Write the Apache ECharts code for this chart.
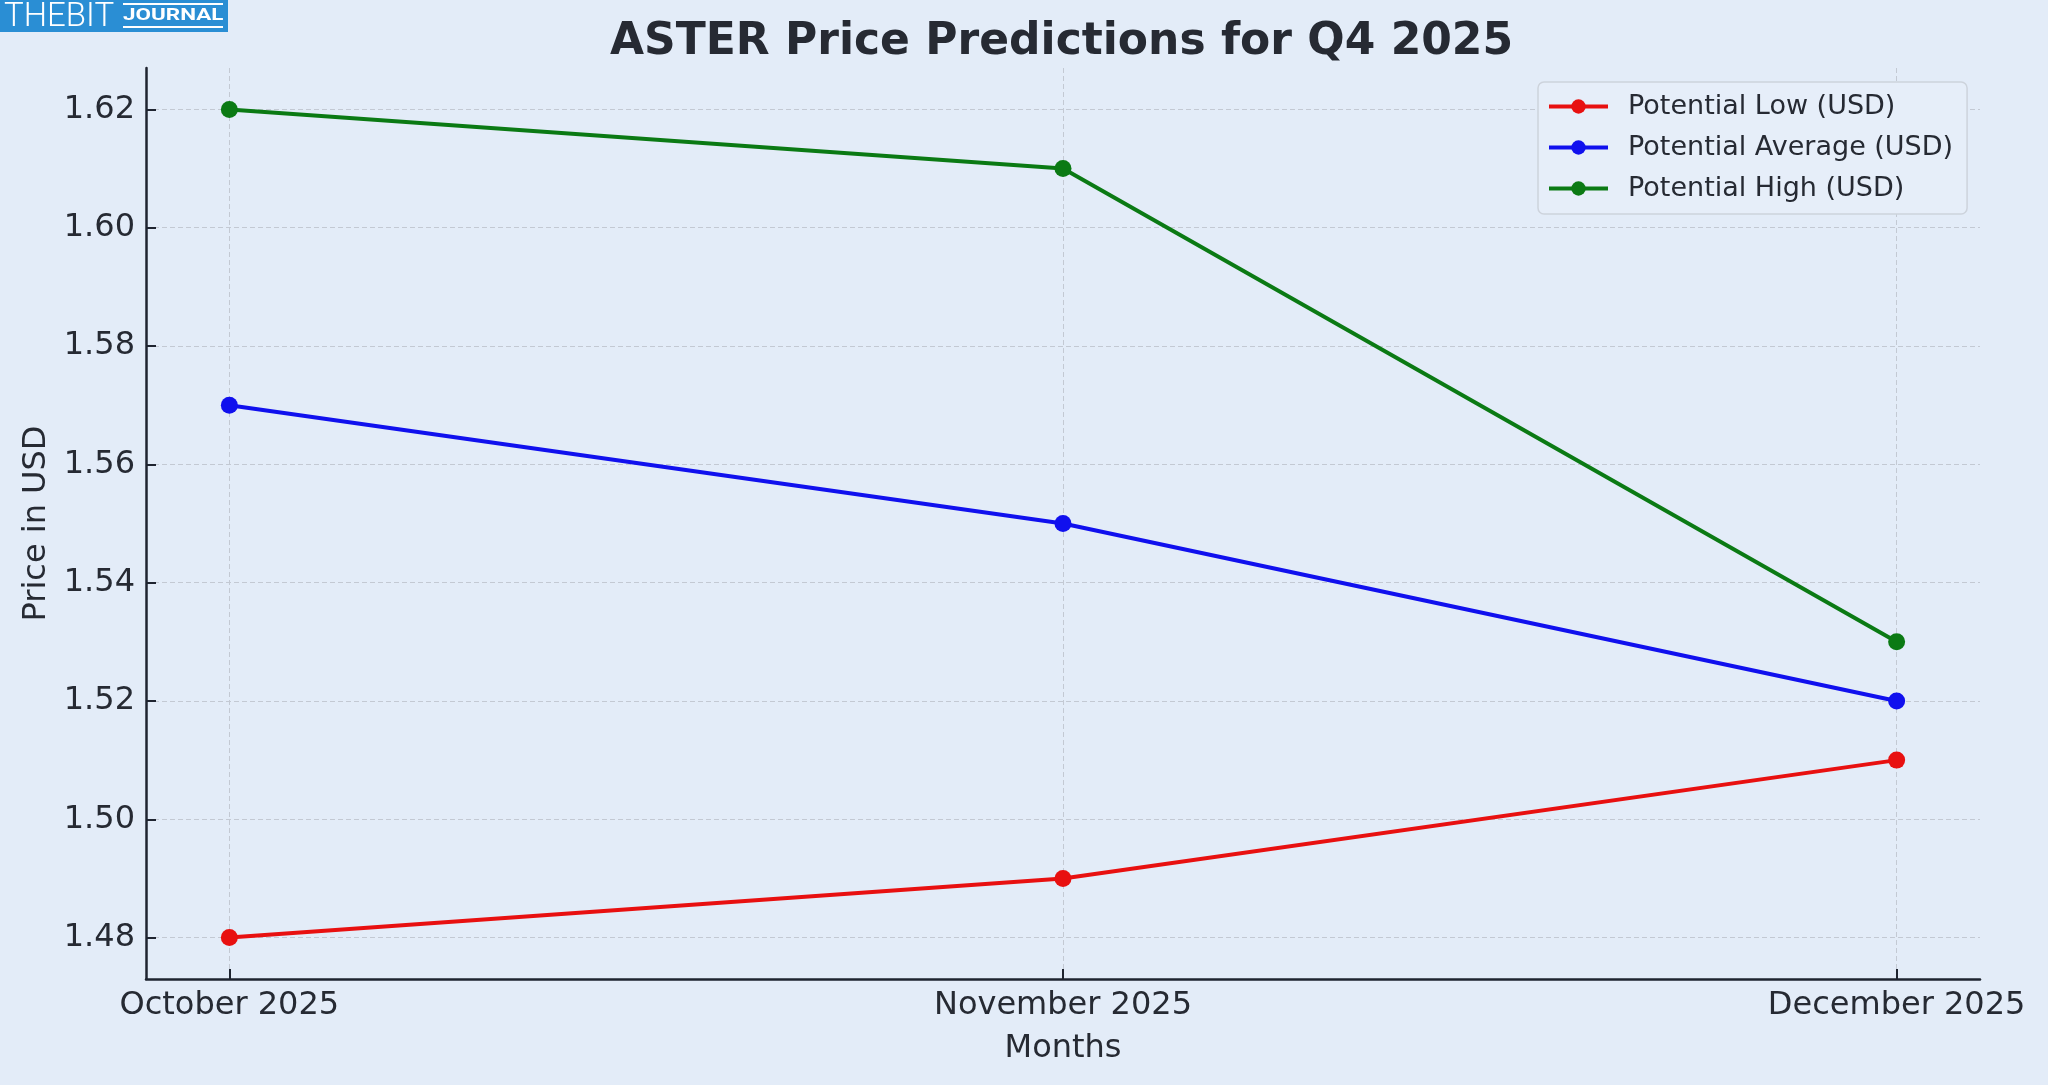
<!DOCTYPE html>
<html>
<head>
    <meta charset="utf-8">
    <title>ASTER Price Predictions</title>
    <script src="https://cdn.jsdelivr.net/npm/echarts@6/dist/echarts.min.js"></script>
    <style>
        html, body { margin: 0; padding: 0; background: #e3ecf8; }
    </style>
</head>
<body>
    <div id="main" style="width: 2048px;height:1085px;"></div>
    <script type="text/javascript">
        // data
        var months = ['October 2025', 'November 2025', 'December 2025'];
        var lowVals = [1.48, 1.49, 1.51];
        var avgVals = [1.57, 1.55, 1.52];
        var highVals = [1.62, 1.61, 1.53];
        var yTicks = [1.48, 1.50, 1.52, 1.54, 1.56, 1.58, 1.60, 1.62];
        var xTicks = [0, 1, 2];

        var ink = '#262a33';
        var font = 'DejaVu Sans';

        function pairs(vals) {
            return vals.map(function (v, i) { return [i, v]; });
        }

        function lineSeries(name, vals, color) {
            return {
                name: name,
                type: 'line',
                data: pairs(vals),
                symbol: 'circle',
                symbolSize: 17,
                itemStyle: { color: color },
                lineStyle: { color: color, width: 4 },
                emphasis: { disabled: true },
                z: 3
            };
        }

        var myChart = echarts.init(document.getElementById('main'));

        var option = {
            backgroundColor: '#e3ecf8',
            animation: false,
            textStyle: { fontFamily: font, color: ink },
            title: {
                text: 'ASTER Price Predictions for Q4 2025',
                left: 605,
                top: 16,
                textStyle: { fontFamily: font, fontSize: 44, fontWeight: 'bold', color: ink }
            },
            graphic: [
                // site logo, top left
                { type: 'rect', left: 0, top: 0, shape: { width: 228, height: 32 }, style: { fill: '#2a8ed4' } },
                { type: 'text', left: 4, top: 1, style: { text: 'THEBIT', fill: '#fff', font: '300 33px Roboto' } },
                { type: 'rect', left: 123, top: 3, shape: { width: 100, height: 2 }, style: { fill: '#fff' } },
                { type: 'rect', left: 123, top: 26, shape: { width: 100, height: 2 }, style: { fill: '#fff' } },
                { type: 'text', x: 123, y: 7, scaleX: 1.32, style: { text: 'JOURNAL', fill: '#fff', font: 'bold 17px Roboto' } }
            ],
            legend: {
                orient: 'vertical',
                left: 1538,
                top: 82,
                padding: [11, 14, 12, 9],
                itemGap: 14,
                itemWidth: 59,
                itemHeight: 18,
                lineStyle: { width: 4 },
                backgroundColor: '#e6eef9',
                borderColor: '#cdd3dc',
                borderWidth: 1.5,
                borderRadius: 6,
                textStyle: { fontFamily: font, fontSize: 27, color: ink, padding: [0, 0, 0, 15] },
                data: ['Potential Low (USD)', 'Potential Average (USD)', 'Potential High (USD)']
            },
            grid: {
                left: 146,
                right: 68,
                top: 68,
                bottom: 106
            },
            xAxis: {
                type: 'value',
                min: -0.1,
                max: 2.1,
                name: 'Months',
                nameLocation: 'middle',
                nameGap: 54,
                nameTextStyle: { fontFamily: font, fontSize: 32, color: ink },
                axisLine: { onZero: false, lineStyle: { color: '#1f2430', width: 2.5 } },
                axisTick: { inside: true, length: 10, customValues: xTicks, lineStyle: { color: '#1f2430', width: 2 } },
                axisLabel: {
                    customValues: xTicks,
                    fontFamily: font, fontSize: 32, color: ink, margin: 11,
                    formatter: function (v) { return months[Math.round(v)]; }
                },
                splitLine: { show: true, lineStyle: { color: '#c3c9d3', width: 1, type: [5, 3] } }
            },
            yAxis: {
                type: 'value',
                min: 1.473,
                max: 1.627,
                name: 'Price in USD',
                nameLocation: 'middle',
                nameGap: 92,
                nameTextStyle: { fontFamily: font, fontSize: 32, color: ink },
                axisLine: { show: true, onZero: false, lineStyle: { color: '#1f2430', width: 2.5 } },
                axisTick: { show: true, inside: true, length: 10, customValues: yTicks, lineStyle: { color: '#1f2430', width: 2 } },
                axisLabel: {
                    customValues: yTicks,
                    fontFamily: font, fontSize: 32, color: ink, margin: 11,
                    formatter: function (v) { return v.toFixed(2); }
                },
                splitLine: { show: true, lineStyle: { color: '#c3c9d3', width: 1, type: [5, 3] } }
            },
            series: [
                lineSeries('Potential Low (USD)', lowVals, '#e81010'),
                lineSeries('Potential Average (USD)', avgVals, '#1010ee'),
                lineSeries('Potential High (USD)', highVals, '#0b7a14')
            ]
        };

        myChart.setOption(option);
    </script>
</body>
</html>
